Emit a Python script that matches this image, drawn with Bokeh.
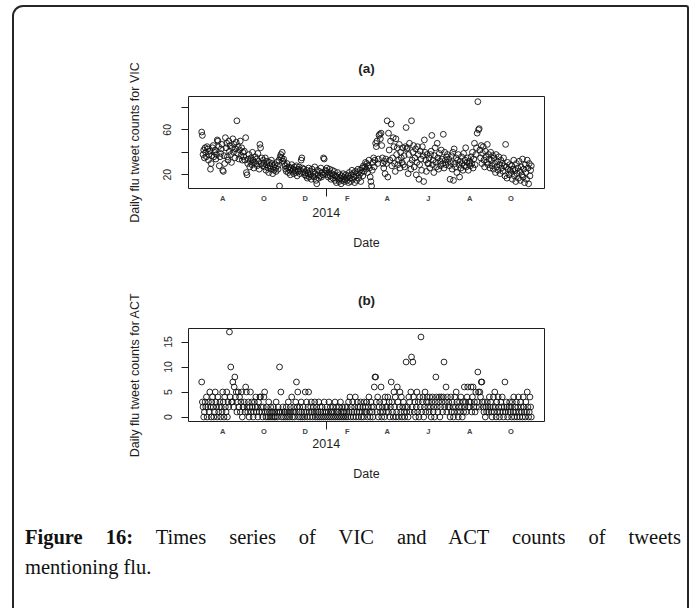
import pandas as pd
from bokeh.plotting import figure
from bokeh.models import (Range1d, LinearAxis, FixedTicker, CustomJSTickFormatter,
                          Div, InlineStyleSheet, ColumnDataSource)
from bokeh.layouts import column
from bokeh.embed import file_html
from bokeh.resources import INLINE

# ---------------- data (daily counts, 2013-07-01 .. 2014-10-31) ----------------
start_date = "2013-07-01"

vic_counts = [
    # Jul 2013
    58, 55, 38, 42, 35, 44, 40, 36, 45, 43, 33, 38, 41, 25, 30, 37, 44, 46, 36, 40,
    42, 34, 38, 51, 50, 45, 28, 36, 39, 43, 47,
    # Aug 2013
    24, 23, 37, 30, 53, 44, 48, 36, 33, 50, 41, 46, 38, 31, 44, 52, 40, 47, 35, 43,
    49, 68, 39, 45, 34, 42, 50, 37, 44, 33, 40,
    # Sep 2013
    36, 41, 33, 53, 22, 20, 30, 34, 38, 27, 32, 35, 29, 40, 33, 26, 31, 36, 30, 34,
    28, 39, 32, 25, 47, 44, 30, 35, 28, 33,
    # Oct 2013
    30, 27, 35, 24, 29, 32, 26, 22, 31, 28, 25, 33, 30, 21, 27, 24, 29, 26, 23, 31,
    28, 25, 33, 10, 36, 38, 35, 40, 32, 34, 30,
    # Nov 2013
    28, 25, 23, 30, 26, 22, 27, 24, 20, 26, 29, 23, 25, 21, 27, 24, 22, 28, 19, 25,
    23, 27, 21, 24, 33, 35, 26, 22, 25, 20,
    # Dec 2013
    22, 19, 24, 17, 21, 26, 18, 23, 20, 16, 25, 19, 22, 18, 27, 21, 15, 12, 24, 20,
    17, 23, 19, 26, 18, 22, 20, 35, 34, 21, 24,
    # Jan 2014
    23, 26, 20, 18, 22, 25, 19, 16, 21, 24, 17, 20, 23, 15, 19, 13, 18, 22, 16, 14,
    20, 17, 12, 19, 15, 21, 18, 14, 16, 20, 17,
    # Feb 2014
    15, 19, 13, 22, 17, 14, 20, 24, 16, 21, 18, 13, 23, 19, 15, 22, 25, 17, 20, 24,
    14, 22, 26, 19, 28, 23, 27, 31,
    # Mar 2014
    25, 30, 22, 28, 33, 26, 18, 14, 10, 24, 31, 35, 27, 33, 48, 45, 50, 30, 34, 55,
    56, 52, 57, 46, 35, 30, 26, 32, 21, 34, 30,
    # Apr 2014
    68, 18, 57, 42, 33, 50, 65, 28, 35, 53, 45, 30, 23, 52, 38, 44, 29, 33, 47, 26,
    40, 35, 31, 44, 29, 37, 27, 45, 62, 43,
    # May 2014
    44, 21, 38, 48, 30, 25, 68, 33, 40, 46, 27, 35, 43, 20, 31, 45, 38, 16, 29, 41,
    34, 24, 45, 37, 14, 51, 40, 33, 23, 38, 30,
    # Jun 2014
    30, 35, 26, 38, 41, 55, 29, 33, 22, 37, 44, 31, 27, 48, 35, 25, 39, 32, 28, 42,
    34, 30, 56, 26, 40, 33, 29, 36, 38, 31,
    # Jul 2014
    34, 28, 16, 31, 37, 25, 40, 15, 43, 30, 27, 35, 22, 33, 38, 29, 18, 32, 26, 36,
    30, 24, 39, 28, 33, 44, 27, 31, 35, 24, 30,
    # Aug 2014
    32, 28, 36, 30, 40, 26, 34, 48, 29, 38, 44, 57, 85, 60, 61, 42, 35, 46, 30, 39,
    45, 33, 27, 41, 36, 31, 47, 29, 38, 34, 26,
    # Sep 2014
    40, 33, 28, 37, 25, 35, 30, 22, 38, 27, 32, 24, 36, 29, 21, 33, 26, 30, 23, 35,
    28, 19, 47, 27, 17, 31, 25, 20, 29, 24,
    # Oct 2014
    22, 28, 16, 25, 33, 19, 24, 14, 30, 21, 26, 17, 32, 23, 15, 27, 20, 34, 18, 25,
    13, 29, 22, 16, 33, 26, 12, 30, 19, 24, 28,
]

act_counts = [
    # Jul 2013
    7, 3, 2, 0, 1, 3, 2, 4, 0, 2, 3, 1, 5, 2, 0, 3, 4, 2, 0, 1, 5, 3, 2, 0, 4, 1, 2, 3, 0, 2, 1,
    # Aug 2013
    5, 3, 0, 4, 2, 1, 5, 0, 3, 2, 17, 4, 10, 3, 3, 7, 2, 6, 8, 4, 5, 1, 3, 5, 2, 4, 1, 3, 5, 0, 2,
    # Sep 2013
    2, 3, 1, 6, 5, 2, 1, 3, 0, 2, 5, 1, 3, 2, 0, 1, 3, 2, 4, 1, 2, 0, 3, 1, 4, 4, 2, 1, 0, 2,
    # Oct 2013
    4, 5, 1, 0, 2, 1, 0, 3, 1, 0, 2, 1, 0, 1, 2, 0, 1, 0, 3, 1, 0, 2, 1, 10, 1, 5, 0, 1, 2, 0, 1,
    # Nov 2013
    1, 0, 2, 1, 0, 3, 1, 0, 2, 1, 4, 0, 1, 2, 0, 1, 3, 7, 2, 5, 0, 1, 2, 0, 3, 1, 0, 2, 1, 0,
    # Dec 2013
    5, 1, 3, 0, 2, 5, 1, 0, 2, 3, 1, 0, 2, 1, 3, 0, 1, 2, 0, 1, 3, 0, 2, 1, 0, 2, 1, 0, 3, 1, 0,
    # Jan 2014
    1, 2, 0, 1, 3, 0, 2, 1, 0, 1, 2, 0, 1, 3, 0, 2, 1, 0, 1, 2, 0, 3, 1, 0, 2, 1, 0, 1, 2, 0, 1,
    # Feb 2014
    2, 0, 3, 1, 4, 0, 2, 1, 3, 0, 1, 2, 4, 0, 1, 3, 2, 0, 1, 2, 3, 0, 1, 2, 0, 3, 1, 2,
    # Mar 2014
    1, 3, 0, 2, 4, 1, 0, 3, 2, 1, 0, 2, 6, 8, 8, 3, 1, 4, 0, 2, 3, 1, 6, 0, 2, 1, 3, 0, 4, 2, 1,
    # Apr 2014
    2, 4, 1, 3, 0, 2, 7, 3, 1, 0, 5, 2, 4, 0, 1, 6, 3, 0, 2, 5, 1, 4, 0, 2, 3, 1, 0, 2, 11, 1,
    # May 2014
    2, 0, 4, 3, 1, 5, 12, 2, 11, 4, 1, 3, 0, 2, 5, 1, 3, 0, 4, 2, 16, 1, 3, 4, 0, 2, 5, 1, 3, 4, 2,
    # Jun 2014
    3, 1, 4, 2, 0, 3, 4, 1, 2, 0, 3, 8, 4, 2, 1, 3, 4, 0, 2, 4, 3, 1, 4, 11, 2, 3, 6, 1, 4, 2,
    # Jul 2014
    3, 2, 0, 4, 1, 3, 2, 0, 1, 4, 2, 5, 3, 1, 0, 2, 3, 1, 4, 2, 0, 3, 1, 6, 2, 3, 1, 4, 6, 2, 3,
    # Aug 2014
    2, 3, 6, 1, 4, 6, 2, 3, 1, 5, 2, 3, 9, 5, 2, 5, 4, 7, 7, 3, 2, 1, 3, 0, 2, 1, 3, 2, 1, 4, 2,
    # Sep 2014
    3, 1, 0, 2, 4, 1, 5, 2, 0, 3, 1, 4, 2, 0, 1, 3, 2, 4, 1, 0, 2, 7, 1, 3, 2, 0, 1, 2, 3, 1,
    # Oct 2014
    2, 0, 3, 1, 4, 0, 2, 1, 3, 0, 2, 4, 1, 0, 3, 2, 1, 0, 4, 2, 1, 0, 3, 1, 5, 2, 0, 1, 4, 2, 0,
]

month_tick_dates = ["2013-08-01", "2013-10-01", "2013-12-01", "2014-02-01",
                    "2014-04-01", "2014-06-01", "2014-08-01", "2014-10-01"]
year_tick_dates = ["2014-01-01"]

titles = ["(a)", "(b)"]
y_labels = ["Daily flu tweet counts for VIC", "Daily flu tweet counts for ACT"]
x_label = "Date"
vic_ticks, vic_unlabeled = [20, 60], [40, 80]
act_ticks = [0, 5, 10, 15]
caption_bold = "Figure 16:"
caption_line1 = "Times series of VIC and ACT counts of tweets"
caption_line2 = "mentioning flu."

# ---------------------------------------------------------------------------


def to_ms(s):
    return pd.Timestamp(s).value / 1e6


def dates_ms(n):
    d = pd.date_range(start_date, periods=n, freq="D")
    return [t.value / 1e6 for t in d]


FONT = "Liberation Sans"
INK = "#1e1e1e"


def panel(title, ylab, vals, y0, y1, yt, ym, h, bt, bb, year_standoff):
    xs = dates_ms(len(vals))
    pad = (xs[-1] - xs[0]) * 0.04
    p = figure(width=693, height=h, x_range=Range1d(xs[0] - pad, xs[-1] + pad),
               y_range=Range1d(y0, y1), x_axis_type=None, y_axis_type=None,
               output_backend="svg", toolbar_location=None, title=title,
               min_border_left=188, min_border_right=149,
               min_border_top=bt, min_border_bottom=bb)
    p.outline_line_color = INK
    p.outline_line_width = 1
    p.background_fill_color = "white"
    p.border_fill_color = "white"
    p.title.align = "center"
    p.title.text_font = FONT
    p.title.text_font_size = "13.5px"
    p.title.text_font_style = "bold"
    p.title.text_color = INK
    p.title.standoff = 42

    src = ColumnDataSource(dict(x=xs, y=vals))
    p.scatter("x", "y", source=src, marker="circle", size=5.8,
              fill_color=None, line_color="#111111", line_width=0.9)

    ya = LinearAxis(ticker=FixedTicker(ticks=yt, minor_ticks=ym), axis_label=ylab)
    ya.axis_line_color = None
    ya.major_tick_out = 7
    ya.major_tick_in = 0
    ya.minor_tick_out = 7
    ya.minor_tick_in = 0
    ya.major_tick_line_color = INK
    ya.minor_tick_line_color = INK
    ya.major_label_orientation = "parallel"
    ya.major_label_text_font = FONT
    ya.major_label_text_font_size = "10.5px"
    ya.major_label_text_color = INK
    ya.major_label_standoff = 10
    ya.axis_label_text_font = FONT
    ya.axis_label_text_font_size = "12.5px"
    ya.axis_label_text_font_style = "normal"
    ya.axis_label_text_color = INK
    ya.axis_label_standoff = 19
    p.add_layout(ya, "left")

    xm = LinearAxis(
        ticker=FixedTicker(ticks=[to_ms(d) for d in month_tick_dates],
                           minor_ticks=[to_ms(d) for d in year_tick_dates]),
        formatter=CustomJSTickFormatter(
            code="return 'JFMAMJJASOND'[new Date(tick).getUTCMonth()];"))
    xm.axis_line_color = None
    xm.major_tick_out = 0
    xm.major_tick_in = 0
    xm.major_tick_line_color = None
    xm.minor_tick_out = 8
    xm.minor_tick_in = 0
    xm.minor_tick_line_color = INK
    xm.major_label_text_font = FONT
    xm.major_label_text_font_size = "7.5px"
    xm.major_label_text_font_style = "bold"
    xm.major_label_text_color = "#444444"
    xm.major_label_standoff = -3
    p.add_layout(xm, "below")

    xy = LinearAxis(
        ticker=FixedTicker(ticks=[to_ms(d) for d in year_tick_dates], minor_ticks=[]),
        formatter=CustomJSTickFormatter(
            code="return String(new Date(tick).getUTCFullYear());"),
        axis_label=x_label)
    xy.axis_line_color = None
    xy.major_tick_out = 0
    xy.major_tick_in = 0
    xy.major_tick_line_color = None
    xy.minor_tick_line_color = None
    xy.major_label_text_font = FONT
    xy.major_label_text_font_size = "12.5px"
    xy.major_label_text_color = INK
    xy.major_label_standoff = year_standoff
    xy.axis_label_text_font = FONT
    xy.axis_label_text_font_size = "12.5px"
    xy.axis_label_text_font_style = "normal"
    xy.axis_label_text_color = INK
    xy.axis_label_standoff = 16
    p.add_layout(xy, "below")
    return p


p1 = panel(titles[0], y_labels[0], vic_counts, 7.8, 89.6, vic_ticks, vic_unlabeled,
           258, 96, 70, 2)
p2 = panel(titles[1], y_labels[1], act_counts, -0.9, 17.7, act_ticks, [],
           232, 70, 69, 0)

cap_html = (
    '<div style="padding:27px 0 0 20px; width:656px; font-family:\'Liberation Serif\', serif; '
    'font-size:20.5px; line-height:30px; color:#111;">'
    '<div style="text-align:justify; text-align-last:justify; width:656px;">'
    f'<b>{caption_bold}</b> {caption_line1}</div>'
    f'<div style="text-align:left;">{caption_line2}</div></div>'
)
cap = Div(text=cap_html, width=693, height=118)

border = InlineStyleSheet(css="""
:host { position: relative; }
:host::after {
  content: ""; position: absolute; left: 12px; top: 5px; width: 677px; height: 603px;
  box-sizing: border-box; border: 2px solid #262626; border-bottom: none;
  border-radius: 11px 3px 0 0; pointer-events: none; z-index: 10;
}
""")

layout = column(p1, p2, cap, spacing=0, stylesheets=[border])

open("out.html", "w").write(file_html(layout, INLINE))
